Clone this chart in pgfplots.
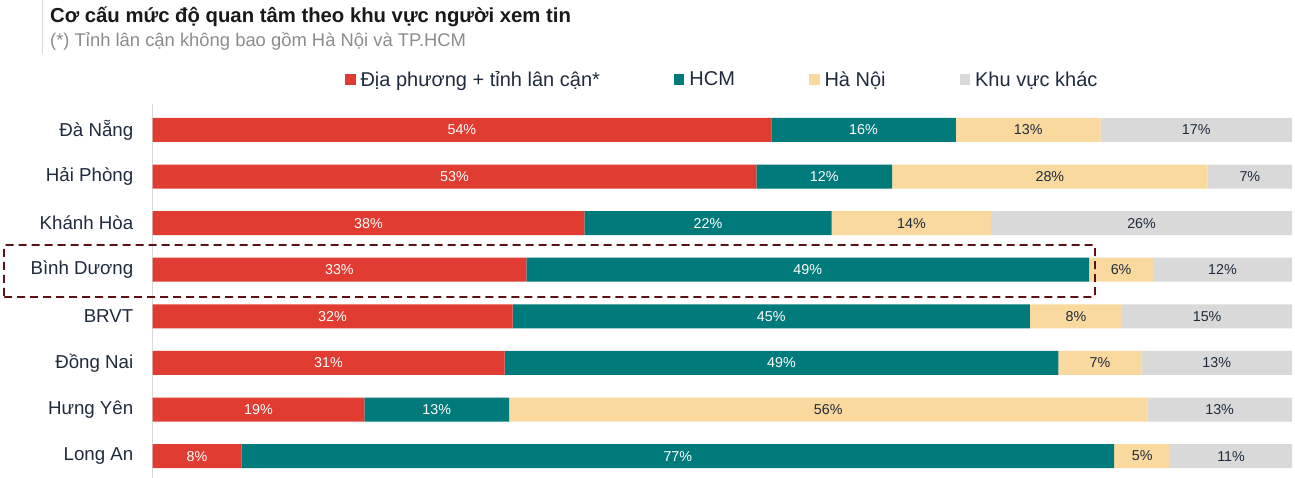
\documentclass[border=0pt]{standalone}
\usepackage{pgfplots}
\pgfplotsset{compat=1.18}
\usepackage{pgfplotstable}
\usepackage{fontspec}
\setmainfont{Liberation Sans}

\definecolor{cRed}{HTML}{E03C31}
\definecolor{cTeal}{HTML}{007A7A}
\definecolor{cYel}{HTML}{F9D99E}
\definecolor{cGray}{HTML}{D9D9D9}
\definecolor{cTxt}{HTML}{1F2B3D}
\definecolor{cBox}{HTML}{5A1215}

% shares (%) per row
\pgfplotstableread{
row dp   hcm  hn   khac
0   54.3 16.2 12.7 16.8
1   53.0 11.9 27.7 7.4
2   37.9 21.7 14.0 26.4
3   32.8 49.4 5.6  12.2
4   31.6 45.4 8.1  14.9
5   30.9 48.6 7.3  13.2
6   18.6 12.7 56.0 12.7
7   7.8  76.6 4.9  10.7
}\shares

% label of each segment (stacked bars put it in the middle already)
\pgfplotsset{
  seglabel/.style 2 args={
    visualization depends on={\thisrow{#1} \as \val},
    nodes near coords={\pgfmathprintnumber[fixed,precision=0,assume math mode=true]{\val}\%},
    every node near coord/.style={anchor=center, text=#2, font=\fontsize{14.3}{15}\selectfont},
  },
}

\begin{document}
\begin{tikzpicture}
\useasboundingbox (0,0) rectangle (1295pt,478pt);

% title block
\draw[cGray, line width=1pt] (42pt,478pt) -- (42pt,424pt);
\node[anchor=west, inner sep=0pt, text=black!90, font=\bfseries\fontsize{20.3}{21}\selectfont]
  at (50pt,461pt) {Cơ cấu mức độ quan tâm theo khu vực người xem tin};
\node[anchor=west, inner sep=0pt, text=black!45, font=\fontsize{18.4}{19}\selectfont]
  at (50pt,437pt) {(*) Tỉnh lân cận không bao gồm Hà Nội và TP.HCM};

\begin{axis}[
    at={(152.5pt,0pt)}, anchor=south west,
    scale only axis,
    width=1139.5pt, height=373.7pt,
    xbar stacked,
    bar width=24pt,
    xmin=0, xmax=100,
    ymin=-0.55, ymax=7.47,
    y dir=reverse,
    ytick={0,...,7},
    yticklabels={Đà Nẵng,Hải Phòng,Khánh Hòa,Bình Dương,BRVT,Đồng Nai,Hưng Yên,Long An},
    yticklabel style={font=\fontsize{18.7}{19}\selectfont, text=cTxt, inner sep=0pt, xshift=-19pt},
    xtick=\empty,
    major tick length=0pt,
    axis x line=none,
    axis y line*=left,
    y axis line style={draw=cGray, line width=1pt, -},
    legend style={at={(0.5,1.066)}, anchor=center, draw=none, fill=none,
      legend columns=4, font=\fontsize{20}{20}\selectfont, text=cTxt,
      /tikz/every odd column/.append style={column sep=3pt},
      /tikz/every even column/.append style={column sep=72pt}},
    legend image code/.code={\fill[#1] (0pt,-5.5pt) rectangle (10.5pt,5.5pt);},
]
\addplot[fill=cRed, draw=none, seglabel={dp}{white}] table[x=dp, y=row] {\shares};
\addplot[fill=cTeal, draw=none, seglabel={hcm}{white}] table[x=hcm, y=row] {\shares};
\addplot[fill=cYel, draw=none, seglabel={hn}{cTxt}] table[x=hn, y=row] {\shares};
\addplot[fill=cGray, draw=none, seglabel={khac}{cTxt}] table[x=khac, y=row] {\shares};
\legend{Địa phương + tỉnh lân cận*, HCM, Hà Nội, Khu vực khác}
\end{axis}

% highlight box round Bình Dương
\draw[cBox, line width=1.8pt, dash pattern=on 8pt off 5pt, rounded corners=1pt]
  (4pt,181pt) rectangle (1095pt,233pt);
\end{tikzpicture}
\end{document}
